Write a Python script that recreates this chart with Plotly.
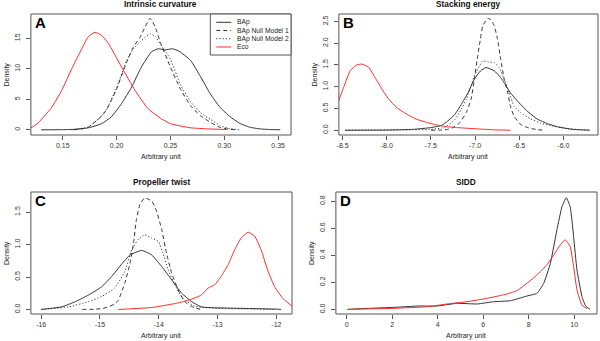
import plotly.graph_objects as go

# ---------------- data ----------------
# Panel A: Intrinsic curvature
a_bap_x = [0.130, 0.150, 0.160, 0.1738, 0.186, 0.195, 0.2046, 0.2139, 0.223, 0.2324, 0.2386, 0.2450, 0.2520, 0.2580, 0.2687, 0.278, 0.287, 0.296, 0.305, 0.314, 0.3235, 0.333, 0.342, 0.352]
a_bap_y = [0, 0.02, 0.08, 0.33, 1.0, 2.1, 4.3, 7.0, 10.3, 12.8, 13.3, 13.1, 13.3, 12.9, 11.4, 8.7, 5.9, 3.7, 2.2, 1.1, 0.43, 0.15, 0.05, 0.0]
a_nm1_x = [0.160, 0.168, 0.1738, 0.1813, 0.186, 0.1907, 0.195, 0.200, 0.2093, 0.2156, 0.2218, 0.2265, 0.2311, 0.2358, 0.2405, 0.250, 0.2593, 0.2687, 0.278, 0.2874, 0.296, 0.305, 0.312]
a_nm1_y = [0, 0.15, 0.45, 1.5, 2.2, 3.3, 4.8, 6.7, 11.1, 13.6, 15.2, 16.9, 18.3, 16.9, 14.4, 10.3, 6.7, 3.95, 2.3, 1.2, 0.4, 0.08, 0]
a_nm2_x = [0.158, 0.166, 0.1738, 0.1813, 0.186, 0.1907, 0.195, 0.200, 0.2093, 0.2156, 0.2218, 0.2265, 0.2311, 0.2358, 0.2436, 0.250, 0.2593, 0.2687, 0.278, 0.2874, 0.296, 0.305, 0.314]
a_nm2_y = [0, 0.15, 0.45, 1.5, 2.3, 3.4, 4.9, 6.9, 11.3, 13.3, 14.4, 15.2, 15.75, 15.3, 13.3, 11.6, 7.4, 4.6, 2.8, 1.7, 0.7, 0.2, 0.0]
a_eco_x = [0.110, 0.1204, 0.126, 0.1306, 0.1398, 0.1491, 0.1583, 0.1676, 0.1738, 0.1800, 0.1860, 0.1923, 0.2046, 0.217, 0.229, 0.2417, 0.250, 0.2687, 0.285, 0.302]
a_eco_y = [0.03, 0.33, 0.95, 1.8, 3.7, 6.5, 10.0, 13.3, 15.3, 16.0, 15.5, 14.2, 10.3, 6.5, 3.5, 1.8, 1.0, 0.33, 0.15, 0.05]

# Panel B: Stacking energy
b_bap_x = [-8.47, -8.0, -7.7, -7.5, -7.38, -7.31, -7.23, -7.157, -7.08, -7.008, -6.94, -6.876, -6.78, -6.71, -6.67, -6.6, -6.52, -6.41, -6.3, -6.18, -6.07, -5.9, -5.70]
b_bap_y = [0, 0.003, 0.02, 0.06, 0.11, 0.21, 0.36, 0.59, 0.86, 1.17, 1.36, 1.44, 1.36, 1.21, 1.09, 0.86, 0.67, 0.44, 0.26, 0.15, 0.08, 0.02, 0]
b_nm1_x = [-7.5, -7.4, -7.32, -7.25, -7.176, -7.1, -7.045, -7.008, -6.97, -6.94, -6.913, -6.857, -6.82, -6.783, -6.745, -6.71, -6.67, -6.63, -6.6, -6.558, -6.483, -6.42, -6.37, -6.3, -6.22]
b_nm1_y = [0, 0.004, 0.015, 0.06, 0.17, 0.40, 0.71, 1.17, 1.71, 2.09, 2.40, 2.57, 2.54, 2.40, 2.09, 1.63, 1.17, 0.86, 0.55, 0.32, 0.13, 0.07, 0.04, 0.015, 0.0]
b_nm2_x = [-8.47, -7.7, -7.5, -7.38, -7.31, -7.23, -7.157, -7.1, -7.045, -7.008, -6.913, -6.85, -6.78, -6.727, -6.67, -6.614, -6.558, -6.483, -6.37, -6.26, -6.15, -6.0, -5.8, -5.7]
b_nm2_y = [0, 0.01, 0.02, 0.05, 0.11, 0.24, 0.48, 0.71, 1.02, 1.25, 1.59, 1.57, 1.55, 1.44, 1.17, 0.86, 0.55, 0.40, 0.26, 0.16, 0.11, 0.05, 0.01, 0]
b_eco_x = [-8.65, -8.545, -8.489, -8.414, -8.339, -8.282, -8.207, -8.132, -8.056, -7.98, -7.887, -7.774, -7.66, -7.548, -7.435, -7.32, -7.20, -6.97, -6.80, -6.6]
b_eco_y = [0.30, 0.68, 0.98, 1.37, 1.50, 1.52, 1.45, 1.21, 0.95, 0.72, 0.52, 0.37, 0.25, 0.18, 0.12, 0.08, 0.06, 0.03, 0.01, 0.0]

# Panel C: Propeller twist
c_bap_x = [-16.0, -15.65, -15.42, -15.2, -14.97, -14.8, -14.63, -14.49, -14.29, -14.12, -13.95, -13.78, -13.61, -13.44, -13.28, -13.0, -12.5, -12.0, -11.92]
c_bap_y = [0, 0.04, 0.12, 0.22, 0.35, 0.51, 0.70, 0.84, 0.91, 0.84, 0.66, 0.455, 0.25, 0.12, 0.04, 0.025, 0.015, 0.005, 0]
c_nm1_x = [-15.3, -15.1, -14.95, -14.86, -14.76, -14.69, -14.58, -14.49, -14.43, -14.38, -14.32, -14.24, -14.12, -14.04, -13.95, -13.87, -13.78, -13.67, -13.56, -13.47, -13.39, -13.28]
c_nm1_y = [0, 0.003, 0.015, 0.04, 0.08, 0.14, 0.40, 0.71, 1.02, 1.39, 1.62, 1.72, 1.67, 1.52, 1.23, 0.87, 0.56, 0.30, 0.12, 0.06, 0.025, 0]
c_nm2_x = [-16.0, -15.53, -15.2, -14.97, -14.75, -14.58, -14.46, -14.35, -14.24, -14.12, -14.01, -13.93, -13.84, -13.73, -13.59, -13.39, -13.0, -12.5, -12.0]
c_nm2_y = [0, 0.04, 0.12, 0.20, 0.33, 0.58, 0.92, 1.08, 1.15, 1.10, 1.05, 0.87, 0.61, 0.38, 0.17, 0.05, 0.015, 0.008, 0]
c_eco_x = [-14.69, -14.12, -13.73, -13.5, -13.28, -13.16, -13.05, -12.94, -12.82, -12.71, -12.6, -12.48, -12.37, -12.26, -12.15, -12.03, -11.89, -11.73, -11.6]
c_eco_y = [0, 0.03, 0.09, 0.14, 0.22, 0.33, 0.38, 0.51, 0.69, 0.92, 1.10, 1.19, 1.13, 0.92, 0.61, 0.35, 0.17, 0.05, 0.01]

# Panel D: SIDD
d_bap_x = [0.03, 1.0, 2.07, 3.1, 3.97, 4.85, 5.73, 6.46, 7.19, 7.92, 8.36, 8.65, 8.95, 9.24, 9.46, 9.65, 9.82, 9.97, 10.12, 10.34, 10.5, 10.7]
d_bap_y = [0, 0.008, 0.015, 0.025, 0.025, 0.045, 0.04, 0.057, 0.064, 0.099, 0.119, 0.19, 0.34, 0.59, 0.76, 0.825, 0.76, 0.54, 0.29, 0.094, 0.025, 0]
d_eco_x = [0.03, 1.0, 2.07, 3.54, 4.41, 5.29, 6.17, 7.05, 7.49, 7.92, 8.36, 8.8, 9.09, 9.39, 9.6, 9.82, 9.97, 10.12, 10.34, 10.56]
d_eco_y = [0, 0.004, 0.008, 0.02, 0.04, 0.057, 0.082, 0.114, 0.14, 0.193, 0.255, 0.33, 0.40, 0.478, 0.515, 0.465, 0.317, 0.144, 0.03, 0.005]

# tick values / labels
a_xticks = [0.15, 0.20, 0.25, 0.30, 0.35]
a_xlabels = ["0.15", "0.20", "0.25", "0.30", "0.35"]
a_yticks = [0, 5, 10, 15]
a_ylabels = ["0", "5", "10", "15"]
b_xticks = [-8.5, -8.0, -7.5, -7.0, -6.5, -6.0]
b_xlabels = ["-8.5", "-8.0", "-7.5", "-7.0", "-6.5", "-6.0"]
b_yticks = [0.0, 0.5, 1.0, 1.5, 2.0, 2.5]
b_ylabels = ["0.0", "0.5", "1.0", "1.5", "2.0", "2.5"]
c_xticks = [-16, -15, -14, -13, -12]
c_xlabels = ["-16", "-15", "-14", "-13", "-12"]
c_yticks = [0.0, 0.5, 1.0, 1.5]
c_ylabels = ["0.0", "0.5", "1.0", "1.5"]
d_xticks = [0, 2, 4, 6, 8, 10]
d_xlabels = ["0", "2", "4", "6", "8", "10"]
d_yticks = [0.0, 0.2, 0.4, 0.6, 0.8]
d_ylabels = ["0.0", "0.2", "0.4", "0.6", "0.8"]

panel_titles = ["Intrinsic curvature", "Stacking energy", "Propeller twist", "SIDD"]
panel_letters = ["A", "B", "C", "D"]
series_names = ["BAp", "BAp Null Model 1", "BAp Null Model 2", "Eco"]
x_title = "Arbitrary unit"
y_title = "Density"

# ---------------- figure ----------------
W, H = 600, 341
FONT = "Liberation Sans, Arial, Helvetica, sans-serif"
BLACK = "#333333"
RED = "#ff2a2a"
styles = {
    "BAp": dict(color=BLACK, dash="solid"),
    "BAp Null Model 1": dict(color=BLACK, dash="4px,3px"),
    "BAp Null Model 2": dict(color=BLACK, dash="1.2px,2px"),
    "Eco": dict(color=RED, dash="solid"),
}

def px_x(p):
    return p / W

def px_y(p):
    return 1 - p / H

# frames in pixel coords (left, right, top, bottom)
frames = [(29, 290, 14, 135), (338, 598, 14, 135), (29, 291, 192, 314), (335, 597, 192, 314)]
xranges = [[0.1204, 0.362], [-8.542, -5.608], [-16.175, -11.734], [-0.48, 11.0]]
yranges = [[-0.85, 19.0], [-0.11, 2.67], [-0.07, 1.81], [-0.034, 0.868]]
xticks = [(a_xticks, a_xlabels), (b_xticks, b_xlabels), (c_xticks, c_xlabels), (d_xticks, d_xlabels)]
yticks = [(a_yticks, a_ylabels), (b_yticks, b_ylabels), (c_yticks, c_ylabels), (d_yticks, d_ylabels)]

panels = [
    [("BAp", a_bap_x, a_bap_y), ("BAp Null Model 1", a_nm1_x, a_nm1_y), ("BAp Null Model 2", a_nm2_x, a_nm2_y), ("Eco", a_eco_x, a_eco_y)],
    [("BAp", b_bap_x, b_bap_y), ("BAp Null Model 1", b_nm1_x, b_nm1_y), ("BAp Null Model 2", b_nm2_x, b_nm2_y), ("Eco", b_eco_x, b_eco_y)],
    [("BAp", c_bap_x, c_bap_y), ("BAp Null Model 1", c_nm1_x, c_nm1_y), ("BAp Null Model 2", c_nm2_x, c_nm2_y), ("Eco", c_eco_x, c_eco_y)],
    [("BAp", d_bap_x, d_bap_y), ("Eco", d_eco_x, d_eco_y)],
]

fig = go.Figure()
layout = dict(
    width=W, height=H, margin=dict(l=0, r=0, t=0, b=0),
    paper_bgcolor="white", plot_bgcolor="white", showlegend=False,
    font=dict(family=FONT, size=7, color="#222"),
)
annotations = []
shapes = []

for i in range(4):
    sfx = "" if i == 0 else str(i + 1)
    xa, ya = "x" + sfx, "y" + sfx
    l, r, t, b = frames[i]
    common = dict(showline=False, ticks="outside", ticklen=4, tickwidth=1, tickcolor="#555",
                  showgrid=False, zeroline=False,
                  tickfont=dict(family=FONT, size=7, color="#333"))
    layout["xaxis" + sfx] = dict(common, domain=[px_x(l), px_x(r)], anchor=ya, range=xranges[i],
                                 tickmode="array", tickvals=xticks[i][0], ticktext=xticks[i][1],
                                 ticklabelstandoff=0)
    layout["yaxis" + sfx] = dict(common, domain=[px_y(b), px_y(t)], anchor=xa, range=yranges[i],
                                 tickmode="array", tickvals=yticks[i][0], ticktext=yticks[i][1],
                                 tickangle=-90, ticklabelstandoff=3)
    for name, xs, ys in panels[i]:
        st = styles[name]
        fig.add_trace(go.Scatter(x=xs, y=ys, mode="lines", name=name, xaxis=xa, yaxis=ya,
                                 line=dict(color=st["color"], dash=st["dash"], width=1,
                                           shape="spline", smoothing=0.4),
                                 hoverinfo="skip"))
    # frame box
    shapes.append(dict(type="rect", xref="paper", yref="paper",
                       x0=px_x(l), x1=px_x(r), y0=px_y(b), y1=px_y(t),
                       line=dict(color="#555", width=1), fillcolor="rgba(0,0,0,0)", layer="above"))
    cx = (l + r) / 2
    # panel title
    annotations.append(dict(text="<b>%s</b>" % panel_titles[i], xref="paper", yref="paper",
                            x=px_x(cx), y=px_y(t - 10), xanchor="center", yanchor="middle",
                            showarrow=False, font=dict(family=FONT, size=8.3, color="#111")))
    # panel letter
    annotations.append(dict(text="<b>%s</b>" % panel_letters[i], xref="paper", yref="paper",
                            x=px_x(l + 2), y=px_y(t + 8.5), xanchor="left", yanchor="middle",
                            showarrow=False, font=dict(family=FONT, size=15, color="#000")))
    # x title
    annotations.append(dict(text=x_title, xref="paper", yref="paper",
                            x=px_x(cx), y=px_y(b + 22), xanchor="center", yanchor="middle",
                            showarrow=False, font=dict(family=FONT, size=7, color="#222")))
    # y title
    annotations.append(dict(text=y_title, xref="paper", yref="paper",
                            x=px_x(l - 24), y=px_y((t + b) / 2), xanchor="center", yanchor="middle",
                            textangle=-90, showarrow=False, font=dict(family=FONT, size=7, color="#222")))

# legend box in panel A
shapes.append(dict(type="rect", xref="paper", yref="paper",
                   x0=px_x(209), x1=px_x(290), y0=px_y(55), y1=px_y(14),
                   line=dict(color="#555", width=1), fillcolor="white", layer="above"))
leg_rows = [22.3, 30.5, 38.7, 47]
for name, ry in zip(series_names, leg_rows):
    st = styles[name]
    shapes.append(dict(type="line", xref="paper", yref="paper",
                       x0=px_x(215), x1=px_x(230), y0=px_y(ry), y1=px_y(ry),
                       line=dict(color=st["color"], dash=st["dash"], width=1), layer="above"))
    annotations.append(dict(text=name, xref="paper", yref="paper", x=px_x(233.5), y=px_y(ry),
                            xanchor="left", yanchor="middle", showarrow=False,
                            font=dict(family=FONT, size=6.7, color="#222")))

layout["annotations"] = annotations
layout["shapes"] = shapes
fig.update_layout(**layout)
fig.write_html("out.html", config={"displayModeBar": False},
               post_script="document.body.style.margin='0';document.body.style.padding='0';")
